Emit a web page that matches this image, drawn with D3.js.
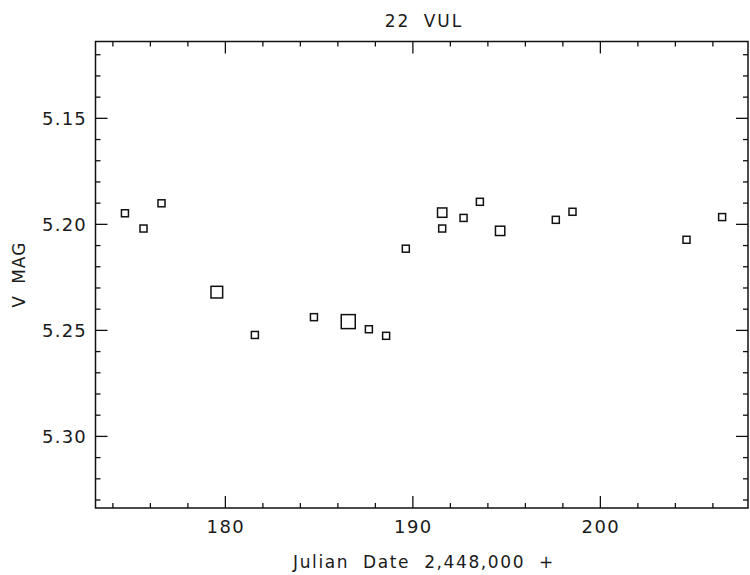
<!DOCTYPE html>
<html>
<head>
<meta charset="utf-8">
<script src="https://cdn.jsdelivr.net/npm/d3@7"></script>
<style>
  body { margin: 0; background: #fff; }
  text { font-family: "DejaVu Sans", sans-serif; fill: #1a1a1a; }
</style>
</head>
<body>
<svg id="chart" width="750" height="575"></svg>
<script>
// Observations of 22 Vul (JD - 2,448,000, V magnitude)
var julianDay = [174.67, 175.66, 176.62, 179.57, 181.60, 184.75, 186.58, 187.68, 188.60,
                 189.65, 191.59, 191.59, 192.73, 193.60, 194.68, 197.65, 198.54, 204.62, 206.52];
var vMag = [5.1950, 5.2022, 5.1903, 5.2322, 5.2524, 5.2440, 5.2461, 5.2497, 5.2528,
            5.2117, 5.1947, 5.2022, 5.1972, 5.1896, 5.2033, 5.1981, 5.1943, 5.2075, 5.1968];
// relative weight of each point (drawn as symbol size)
var weight = [1, 1, 1, 3, 1, 1, 4, 1, 1, 1, 2, 1, 1, 1, 2, 1, 1, 1, 1];

var xTicks = [180, 190, 200];
var yTicks = [5.15, 5.20, 5.25, 5.30];

var svg = d3.select('#chart');
// note: "top" is taken by window.top, so plain names with a prefix
var plotL = 95.5, plotR = 748, plotT = 41.5, plotB = 508;

var x = d3.scaleLinear().domain([173.1, 207.9]).range([plotL, plotR]);
var y = d3.scaleLinear().domain([5.114, 5.334]).range([plotT, plotB]);
var size = d3.scaleLinear().domain([1, 4]).range([7, 14]);

var data = julianDay.map(function(d, i) { return {jd: d, mag: vMag[i], w: weight[i]}; });

// frame
svg.append('rect')
  .attr('x', plotL).attr('y', plotT)
  .attr('width', plotR - plotL).attr('height', plotB - plotT)
  .attr('fill', 'none').attr('stroke', '#111').attr('stroke-width', 1.5);

var xMinor = d3.range(174, 208, 2).filter(function(v) { return xTicks.indexOf(v) < 0; });
var yMinor = d3.range(5.12, 5.335, 0.01).map(function(v) { return +v.toFixed(2); })
  .filter(function(v) { return yTicks.indexOf(v) < 0; });

// axes, ticks pointing inward
function axisGroup(axis, tx, ty) {
  var g = svg.append('g').attr('transform', 'translate(' + tx + ',' + ty + ')').call(axis);
  g.select('.domain').remove();
  g.selectAll('line').attr('stroke', '#111').attr('stroke-width', 1.3);
  return g;
}

axisGroup(d3.axisTop(x).tickValues(xTicks).tickSize(12).tickFormat(''), 0, plotB);
axisGroup(d3.axisTop(x).tickValues(xMinor).tickSize(5).tickFormat(''), 0, plotB);
axisGroup(d3.axisBottom(x).tickValues(xTicks).tickSize(12).tickFormat(''), 0, plotT);
axisGroup(d3.axisBottom(x).tickValues(xMinor).tickSize(5).tickFormat(''), 0, plotT);

axisGroup(d3.axisRight(y).tickValues(yTicks).tickSize(12).tickFormat(''), plotL, 0);
axisGroup(d3.axisRight(y).tickValues(yMinor).tickSize(5).tickFormat(''), plotL, 0);
axisGroup(d3.axisLeft(y).tickValues(yTicks).tickSize(12).tickFormat(''), plotR, 0);
axisGroup(d3.axisLeft(y).tickValues(yMinor).tickSize(5).tickFormat(''), plotR, 0);

// tick labels
svg.append('g').selectAll('text').data(xTicks).join('text')
  .attr('x', function(d) { return x(d) + 1; })
  .attr('y', 533)
  .attr('text-anchor', 'middle')
  .style('font-size', '18px')
  .style('letter-spacing', '1.5px')
  .text(function(d) { return d; });

svg.append('g').selectAll('text').data(yTicks).join('text')
  .attr('x', 87)
  .attr('y', function(d) { return y(d) + 7; })
  .attr('text-anchor', 'end')
  .style('font-size', '18px')
  .style('letter-spacing', '1.2px')
  .text(function(d) { return d.toFixed(2); });

// titles
svg.append('text')
  .attr('x', 424).attr('y', 27)
  .attr('text-anchor', 'middle')
  .style('font-size', '17px')
  .style('letter-spacing', '2px')
  .style('word-spacing', '6px')
  .text('22 VUL');

svg.append('text')
  .attr('x', 424).attr('y', 568)
  .attr('text-anchor', 'middle')
  .style('font-size', '17px')
  .style('word-spacing', '7px')
  .style('letter-spacing', '1.6px')
  .text('Julian Date 2,448,000 +');

svg.append('text')
  .attr('transform', 'translate(25,' + ((plotT + plotB) / 2) + ') rotate(-90)')
  .attr('text-anchor', 'middle')
  .style('font-size', '17px')
  .style('letter-spacing', '1px')
  .style('word-spacing', '5px')
  .text('V MAG');

// points
svg.append('g').selectAll('rect').data(data).join('rect')
  .attr('x', function(d) { return x(d.jd) - size(d.w) / 2; })
  .attr('y', function(d) { return y(d.mag) - size(d.w) / 2; })
  .attr('width', function(d) { return size(d.w); })
  .attr('height', function(d) { return size(d.w); })
  .attr('fill', 'none')
  .attr('stroke', '#111')
  .attr('stroke-width', 1.5);
</script>
</body>
</html>
